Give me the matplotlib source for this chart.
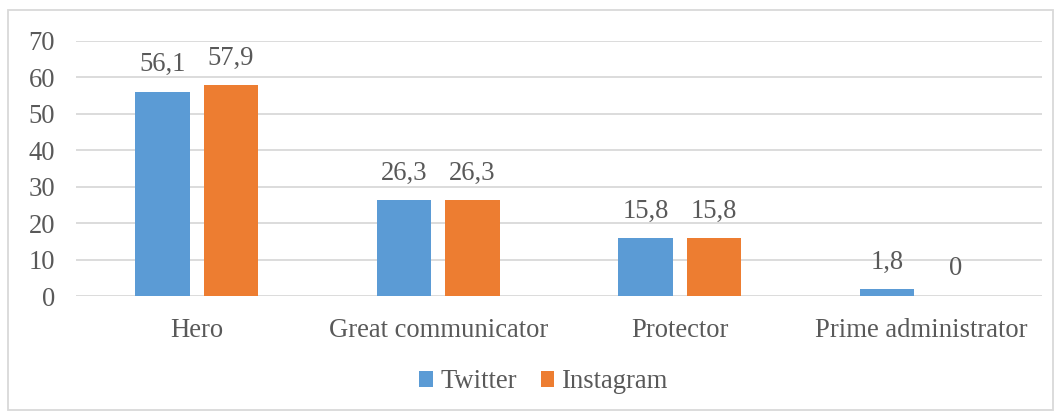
import matplotlib
matplotlib.use("Agg")
import matplotlib.pyplot as plt
import numpy as np
from matplotlib.patches import Rectangle

categories = ["Hero", "Great communicator", "Protector", "Prime administrator"]
twitter = [56.1, 26.3, 15.8, 1.8]
instagram = [57.9, 26.3, 15.8, 0]
series_names = ["Twitter", "Instagram"]
colors = ["#5B9BD5", "#ED7D31"]
yticks = [0, 10, 20, 30, 40, 50, 60, 70]

plt.rcParams['font.family'] = ['Liberation Serif', 'DejaVu Serif']
text_color = "#595959"
fs = 19.2

fig = plt.figure(figsize=(10.61, 4.12), dpi=100)
ax = fig.add_axes([76/1061, 1-296/412, (1042-76)/1061, (296-41)/412])

x = np.arange(len(categories))
w = 0.224
off = 0.142
b1 = ax.bar(x - off, twitter, w, color=colors[0], label=series_names[0], zorder=3)
b2 = ax.bar(x + off, instagram, w, color=colors[1], label=series_names[1], zorder=3)

def fmt(v):
    s = f"{v:g}"
    return s.replace(".", ",")

for bars, vals in ((b1, twitter), (b2, instagram)):
    for r, v in zip(bars, vals):
        ax.text(r.get_x() + r.get_width()/2, v + 4.0, fmt(v), ha="center", va="bottom",
                fontsize=fs, color=text_color)

ax.set_xlim(-0.5, len(categories) - 0.5)
ax.set_ylim(0, 70)
ax.set_yticks(yticks)
ax.set_yticklabels([str(t) for t in yticks])
ax.set_xticks(x)
ax.set_xticklabels(categories)
ax.tick_params(axis="both", length=0, labelsize=fs, labelcolor=text_color)
ax.tick_params(axis="y", pad=15)
ax.tick_params(axis="x", pad=16)
ax.grid(axis="y", color="#D9D9D9", linewidth=1.3, zorder=0)
for s in ax.spines.values():
    s.set_visible(False)

leg = fig.legend(handles=[b1, b2], labels=series_names, loc="center", bbox_to_anchor=(544/1061, 1-382/412),
                 ncol=2, frameon=False, fontsize=fs, handlelength=0.5, handleheight=0.5,
                 handletextpad=0.3, columnspacing=0.9)
for t in leg.get_texts():
    t.set_color(text_color)

fig.patches.append(Rectangle((8/1061, 0.005), (1053-8)/1061, (400-0)/412, transform=fig.transFigure,
                             fill=False, edgecolor="#D9D9D9", linewidth=1.3))

fig.savefig("out.png", dpi=100)
